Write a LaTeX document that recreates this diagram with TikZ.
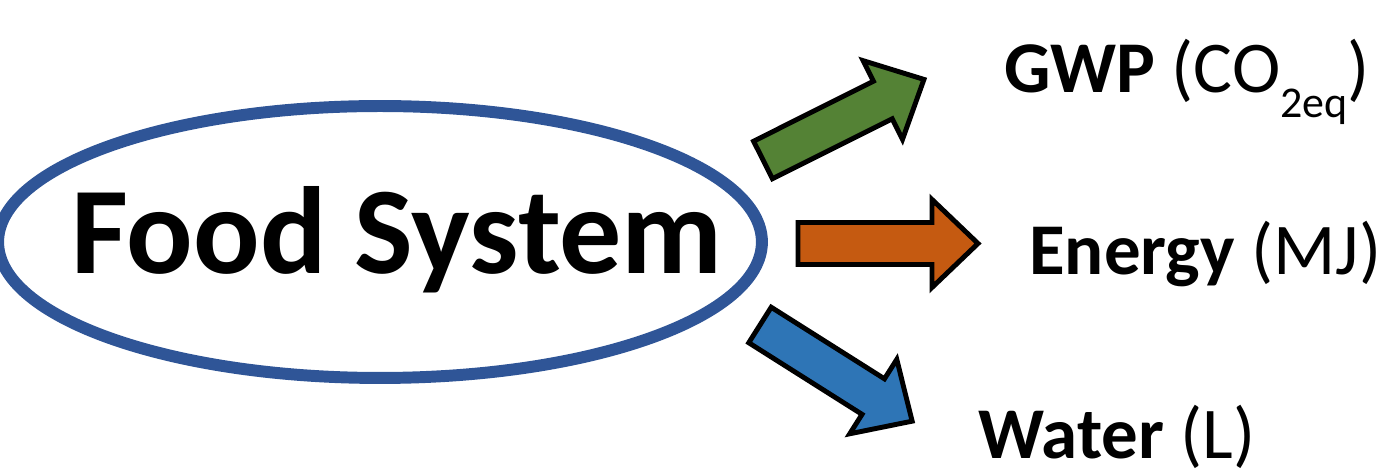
\documentclass[tikz,border=0pt]{standalone}
\usepackage{fontspec}
\setmainfont{Carlito}
\usetikzlibrary{shapes.geometric}

\definecolor{ringblue}{RGB}{47,85,151}
\definecolor{gwpgreen}{RGB}{84,130,53}
\definecolor{energyorange}{RGB}{197,90,17}
\definecolor{waterblue}{RGB}{46,117,182}

\tikzset{
  outcome/.style={font=\fontsize{41.5}{48}\selectfont, inner sep=0pt, anchor=base west},
  pics/blockarrow/.style={code={
    \draw[line width=2.8pt, line join=miter, fill=#1]
      (0,-21) -- (134,-21) -- (134,-44) -- (180,0) -- (134,44) -- (134,21) -- (0,21) -- cycle;
  }}
}

\begin{document}
\begin{tikzpicture}[x=0.02cm, y=0.02cm]
    \useasboundingbox (0,0) rectangle (1384,473);

    % Food system (ellipse)
    \node[ellipse, draw=ringblue, line width=6.8pt, minimum width=15.28cm, minimum height=5.44cm, inner sep=0pt] (system) at (380,231) {};
    \node[font=\fontsize{70.6}{80}\selectfont\bfseries, inner sep=0pt, anchor=base] (food) at (397,199) {Food System};

    % Arrows
    \pic[rotate=26.6] at (763,313) {blockarrow=gwpgreen};
    \pic at (798,229.5) {blockarrow=energyorange};
    \pic[rotate=-32.3] at (760,148) {blockarrow=waterblue};

    % Outcomes
    \node[outcome] (gwp) at (1004,380) {\textbf{GWP} (CO\raisebox{-0.33em}{\fontsize{25}{25}\selectfont 2eq})};
    \node[outcome] (energy) at (1029,198) {\textbf{Energy} (MJ)};
    \node[outcome] (water) at (978,14) {\textbf{Water} (L)};
\end{tikzpicture}
\end{document}
